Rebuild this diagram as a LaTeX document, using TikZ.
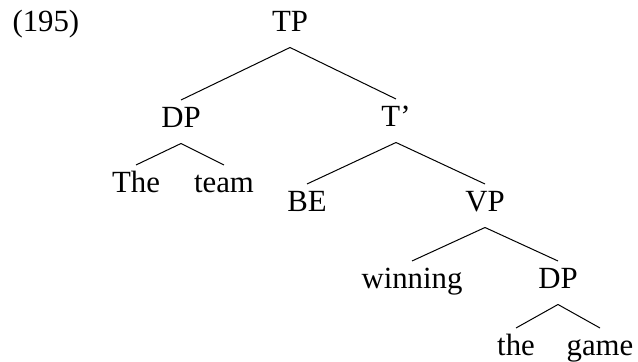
\documentclass[tikz,border=0pt]{standalone}
\usepackage{fontspec}
\setmainfont{Liberation Serif}
\tikzset{cat/.style={anchor=base,inner sep=0pt,text height=13.75pt,text depth=7.5pt,font=\fontsize{15.4}{18}\selectfont}}
\begin{document}
\begin{tikzpicture}[x=0.5pt,y=-0.5pt,line width=0.5pt]
\useasboundingbox (0,0) rectangle (638,362);
\node[cat,anchor=base west] (num) at (12,32) {(195)};
\node[cat] (tp) at (290,32) {TP};
\node[cat] (dpa) at (181,128) {DP};
\node[cat] (tbar) at (396,127) {T’};
\node[cat] (the) at (136,193) {The};
\node[cat] (team) at (224,193) {team};
\node[cat] (be) at (307,212) {BE};
\node[cat] (vp) at (485,212) {VP};
\node[cat] (win) at (412,289) {winning};
\node[cat] (dpb) at (558,289) {DP};
\node[cat] (det) at (516,356) {the};
\node[cat] (game) at (600,356) {game};
\draw (tp.south) -- (dpa.north);
\draw (tp.south) -- (tbar.north);
\draw (dpa.south) -- (the.north);
\draw (dpa.south) -- (team.north);
\draw (tbar.south) -- (be.north);
\draw (tbar.south) -- (vp.north);
\draw (vp.south) -- (win.north);
\draw (vp.south) -- (dpb.north);
\draw (dpb.south) -- (det.north);
\draw (dpb.south) -- (game.north);
\end{tikzpicture}
\end{document}
